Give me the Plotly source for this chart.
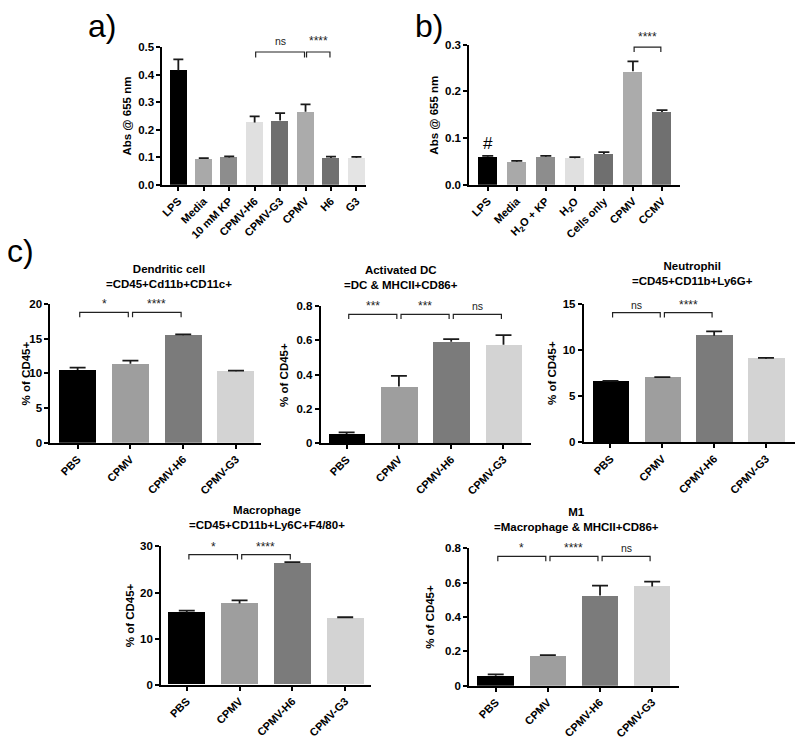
import plotly.graph_objects as go

# ---------------- data ----------------
# panel a
a_categories = ["LPS", "Media", "10 mM KP", "CPMV-H6", "CPMV-G3", "CPMV", "H6", "G3"]
a_means = [0.415, 0.094, 0.099, 0.226, 0.233, 0.265, 0.097, 0.098]
a_err_top = [0.455, 0.097, 0.103, 0.248, 0.260, 0.292, 0.102, 0.101]
a_yticks = [0.0, 0.1, 0.2, 0.3, 0.4, 0.5]
a_ytick_labels = ["0.0", "0.1", "0.2", "0.3", "0.4", "0.5"]
a_sig = [(3, 5, "ns"), (5, 6, "****")]

# panel b
b_categories = ["LPS", "Media", "H<sub>2</sub>O + KP", "H<sub>2</sub>O", "Cells only", "CPMV", "CCMV"]
b_means = [0.060, 0.049, 0.060, 0.057, 0.066, 0.243, 0.156]
b_err_top = [0.062, 0.051, 0.062, 0.059, 0.070, 0.264, 0.160]
b_yticks = [0.0, 0.1, 0.2, 0.3]
b_ytick_labels = ["0.0", "0.1", "0.2", "0.3"]
b_sig = [(5, 6, "****")]
b_marker_label = "#"

# panel c
c_categories = ["PBS", "CPMV", "CPMV-H6", "CPMV-G3"]

dc_title = "Dendritic cell<br>=CD45+Cd11b+CD11c+"
dc_means = [10.5, 11.4, 15.5, 10.3]
dc_err_top = [10.85, 11.85, 15.62, 10.4]
dc_yticks = [0, 5, 10, 15, 20]
dc_ytick_labels = ["0", "5", "10", "15", "20"]
dc_sig = [(0, 1, "*"), (1, 2, "****")]

adc_title = "Activated DC<br>=DC & MHCII+CD86+"
adc_means = [0.053, 0.330, 0.592, 0.574]
adc_err_top = [0.063, 0.392, 0.607, 0.630]
adc_yticks = [0, 0.2, 0.4, 0.6, 0.8]
adc_ytick_labels = ["0", "0.2", "0.4", "0.6", "0.8"]
adc_sig = [(0, 1, "***"), (1, 2, "***"), (2, 3, "ns")]

neu_title = "Neutrophil<br>=CD45+CD11b+Ly6G+"
neu_means = [6.6, 7.04, 11.6, 9.1]
neu_err_top = [6.68, 7.1, 12.07, 9.18]
neu_yticks = [0, 5, 10, 15]
neu_ytick_labels = ["0", "5", "10", "15"]
neu_sig = [(0, 1, "ns"), (1, 2, "****")]

mac_title = "Macrophage<br>=CD45+CD11b+Ly6C+F4/80+"
mac_means = [15.7, 17.6, 26.4, 14.5]
mac_err_top = [16.1, 18.3, 26.6, 14.65]
mac_yticks = [0, 10, 20, 30]
mac_ytick_labels = ["0", "10", "20", "30"]
mac_sig = [(0, 1, "*"), (1, 2, "****")]

m1_title = "M1<br>=Macrophage & MHCII+CD86+"
m1_means = [0.059, 0.173, 0.524, 0.577]
m1_err_top = [0.066, 0.178, 0.582, 0.605]
m1_yticks = [0, 0.2, 0.4, 0.6, 0.8]
m1_ytick_labels = ["0", "0.2", "0.4", "0.6", "0.8"]
m1_sig = [(0, 1, "*"), (1, 2, "****"), (2, 3, "ns")]

abs_title = "Abs @ 655 nm"
pct_title = "% of CD45+"

# ---------------- style ----------------
W, H = 800, 741
FONT = "Liberation Sans"
a_colors = ["#000000", "#a9a9a9", "#8d8d8d", "#e0e0e0", "#6f6f6f", "#ababab", "#707070", "#e4e4e4"]
b_colors = ["#000000", "#a9a9a9", "#8d8d8d", "#e0e0e0", "#6f6f6f", "#ababab", "#707070"]
c_colors = ["#000000", "#9e9e9e", "#7b7b7b", "#d3d3d3"]


def px_dom_x(x0, x1):
    return [x0 / W, x1 / W]


def px_dom_y(ytop, ybot):
    return [1 - ybot / H, 1 - ytop / H]


fig = go.Figure()
annotations = []
shapes = []


def add_panel(k, cats, means, tops, colors, dx, dy, xr, ymax, yticks, ytext,
              bw, cap, sig, br_top, br_leg, lbl_shift, title=None, title_xy=None,
              ytitle=None, ytitle_x=None):
    xa = "x" if k == 1 else f"x{k}"
    ya = "y" if k == 1 else f"y{k}"
    idx = list(range(len(cats)))
    fig.add_trace(go.Bar(
        x=idx, y=means, width=bw, marker=dict(color=colors, line=dict(width=0)),
        xaxis=xa, yaxis=ya, showlegend=False, hoverinfo="skip"))
    # upper-only error bars (stem + cap), cap half-width converted from px to data units
    px_per_unit = (dx[1] - dx[0]) * W / (xr[1] - xr[0])
    hw = cap / px_per_unit
    ex, ey = [], []
    for i, m, t in zip(idx, means, tops):
        ex += [i, i, None, i - hw, i + hw, None]
        ey += [m, t, None, t, t, None]
    fig.add_trace(go.Scatter(
        x=ex, y=ey, mode="lines", line=dict(color="#1a1a1a", width=1.8),
        xaxis=xa, yaxis=ya, showlegend=False, hoverinfo="skip", cliponaxis=False))
    axkey = "xaxis" if k == 1 else f"xaxis{k}"
    aykey = "yaxis" if k == 1 else f"yaxis{k}"
    fig.layout[axkey] = dict(
        domain=dx, range=xr, anchor=ya, tickmode="array", tickvals=idx, ticktext=cats,
        tickangle=-45, showline=True, linecolor="black", linewidth=1.6,
        ticks="outside", ticklen=4, tickwidth=1.5, tickcolor="black",
        showgrid=False, zeroline=False, fixedrange=True,
        tickfont=dict(family=FONT, size=11, color="black", weight="bold"))
    fig.layout[aykey] = dict(
        domain=dy, range=[0, ymax], anchor=xa, tickmode="array", tickvals=yticks,
        ticktext=ytext, showline=True, linecolor="black", linewidth=1.6,
        ticks="outside", ticklen=4, tickwidth=1.5, tickcolor="black",
        showgrid=False, zeroline=False, fixedrange=True,
        tickfont=dict(family=FONT, size=11.5, color="black", weight="bold"))
    for (i, j, lab) in sig:
        x0, x1 = i + 0.04, j - 0.04
        yt, yl = ymax * br_top, ymax * br_leg
        shapes.append(dict(type="path", xref=xa, yref=ya,
                           path=f"M {x0},{yl} L {x0},{yt} L {x1},{yt} L {x1},{yl}",
                           line=dict(color="#222222", width=1.2)))
        is_star = "*" in lab
        annotations.append(dict(
            x=(x0 + x1) / 2, y=yt, xref=xa, yref=ya, text=lab, showarrow=False,
            yanchor="bottom", yshift=lbl_shift + (-1 if is_star else 0),
            font=dict(family=FONT, size=12 if is_star else 10.5, color="#222222")))
    if title:
        annotations.append(dict(
            x=title_xy[0] / W, y=1 - title_xy[1] / H, xref="paper", yref="paper",
            text=title, showarrow=False, xanchor="center", yanchor="middle",
            font=dict(family=FONT, size=11.5, color="black", weight="bold")))
    if ytitle:
        annotations.append(dict(
            x=ytitle_x / W, y=(dy[0] + dy[1]) / 2, xref="paper", yref="paper",
            text=ytitle, textangle=-90, showarrow=False, xanchor="center", yanchor="middle",
            font=dict(family=FONT, size=11.5, color="black", weight="bold")))


# panel a
add_panel(1, a_categories, a_means, a_err_top, a_colors,
          px_dom_x(160.7, 365), px_dom_y(41.7, 181.7), [-0.63, 7.38], 0.5,
          a_yticks, a_ytick_labels, 0.67, 5, a_sig, 0.964, 0.924, 3,
          ytitle=abs_title, ytitle_x=125)
# panel b
add_panel(2, b_categories, b_means, b_err_top, b_colors,
          px_dom_x(468.3, 680), px_dom_y(39.3, 181.7), [-0.64, 6.63], 0.3,
          b_yticks, b_ytick_labels, 0.66, 5.5, b_sig, 0.983, 0.947, 2,
          ytitle=abs_title, ytitle_x=433)
annotations.append(dict(x=0, y=b_err_top[0], xref="x2", yref="y2", text=b_marker_label,
                        showarrow=False, yanchor="bottom", yshift=1,
                        font=dict(family=FONT, size=17, color="black")))
# panel c
add_panel(3, c_categories, dc_means, dc_err_top, c_colors,
          px_dom_x(48.3, 260), px_dom_y(303, 444), [-0.52, 3.48], 20,
          dc_yticks, dc_ytick_labels, 0.7, 8, dc_sig, 0.94, 0.905, 0,
          title=dc_title, title_xy=(167, 275), ytitle=pct_title, ytitle_x=25)
add_panel(4, c_categories, adc_means, adc_err_top, c_colors,
          px_dom_x(319.3, 530), px_dom_y(305, 444.3), [-0.5, 3.52], 0.8,
          adc_yticks, adc_ytick_labels, 0.7, 8, adc_sig, 0.94, 0.905, 0,
          title=adc_title, title_xy=(400, 276), ytitle=pct_title, ytitle_x=282)
add_panel(5, c_categories, neu_means, neu_err_top, c_colors,
          px_dom_x(583, 795), px_dom_y(303.3, 443.5), [-0.52, 3.56], 15,
          neu_yticks, neu_ytick_labels, 0.7, 8, neu_sig, 0.94, 0.905, 0,
          title=neu_title, title_xy=(692, 272), ytitle=pct_title, ytitle_x=552)
add_panel(6, c_categories, mac_means, mac_err_top, c_colors,
          px_dom_x(159.3, 370), px_dom_y(549.3, 690), [-0.49, 3.49], 30,
          mac_yticks, mac_ytick_labels, 0.7, 8, mac_sig, 0.94, 0.905, 0,
          title=mac_title, title_xy=(266, 520), ytitle=pct_title, ytitle_x=128)
add_panel(7, c_categories, m1_means, m1_err_top, c_colors,
          px_dom_x(468.3, 679), px_dom_y(551, 691), [-0.51, 3.52], 0.8,
          m1_yticks, m1_ytick_labels, 0.7, 8, m1_sig, 0.94, 0.905, 0,
          title=m1_title, title_xy=(576, 522), ytitle=pct_title, ytitle_x=429)

# panel letters
for letter, (lx, ly) in zip(["a)", "b)", "c)"], [(100, 20), (428, 20), (19, 249)]):
    annotations.append(dict(x=lx / W, y=1 - ly / H, xref="paper", yref="paper", text=letter,
                            showarrow=False, xanchor="center", yanchor="middle",
                            font=dict(family=FONT, size=32, color="black")))

fig.update_layout(
    width=W, height=H, margin=dict(l=0, r=0, t=0, b=0),
    paper_bgcolor="white", plot_bgcolor="white",
    annotations=annotations, shapes=shapes, bargap=0,
)

fig.write_html("out.html", config={"displayModeBar": False},
               post_script="document.body.style.margin='0';")
